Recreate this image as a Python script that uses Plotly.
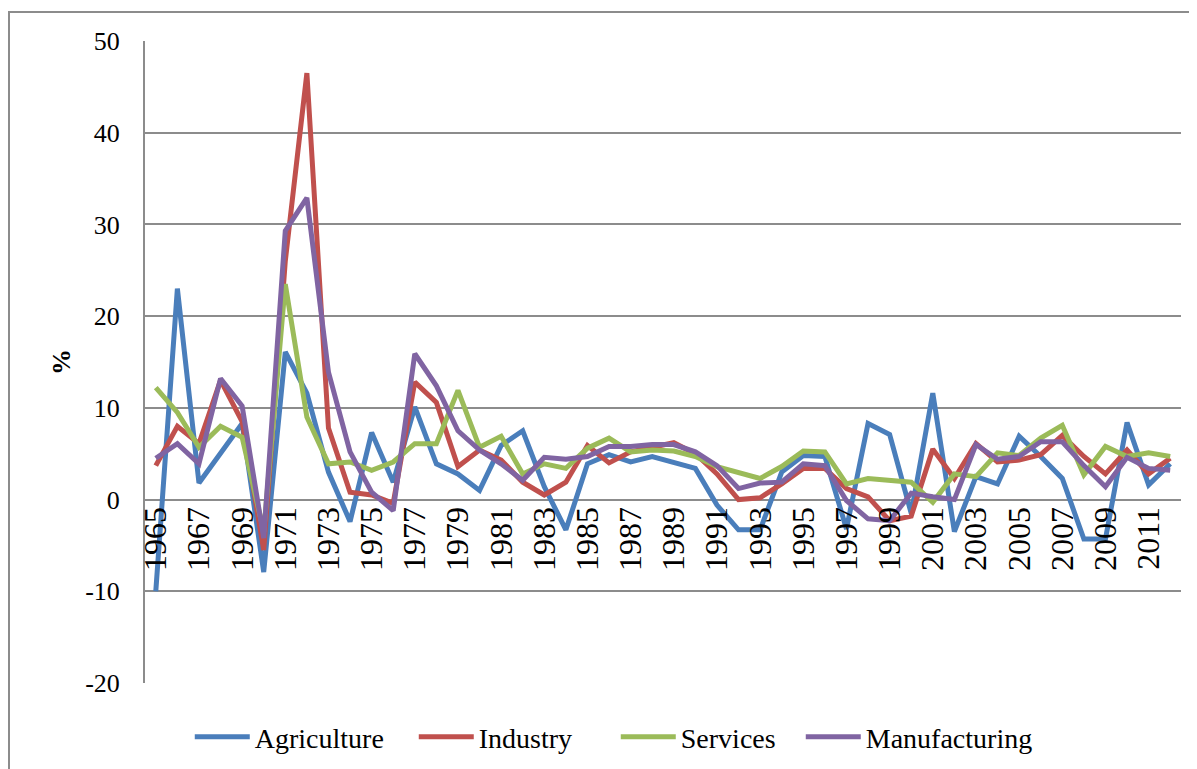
import plotly.graph_objects as go

years = list(range(1965, 2013))

agriculture = [-10.0, 23.0, 1.8, 5.0, 8.3, -7.9, 16.1, 11.6, 3.0, -2.4, 7.3, 1.9, 10.1, 3.9, 2.8, 1.0,
               5.9, 7.5, 1.4, -3.3, 3.9, 4.9, 4.1, 4.7, 4.1, 3.4, -0.6, -3.3, -3.3, 3.0, 4.8, 4.7,
               -3.2, 8.3, 7.1, -1.5, 11.6, -3.5, 2.5, 1.7, 6.9, 4.7, 2.3, -4.3, -4.3, 8.4, 1.6, 3.9]
industry = [3.7, 8.0, 6.1, 13.0, 8.5, -5.5, 26.0, 46.5, 7.8, 0.8, 0.5, -0.4, 12.8, 10.6, 3.6, 5.4,
            4.3, 1.9, 0.5, 1.9, 5.9, 4.0, 5.2, 5.7, 6.2, 5.0, 2.8, 0.0, 0.2, 1.7, 3.4, 3.4,
            1.2, 0.3, -2.3, -1.8, 5.5, 2.3, 6.1, 4.1, 4.3, 4.9, 7.0, 4.7, 2.8, 5.4, 2.8, 4.5]
services = [12.2, 9.5, 5.7, 8.0, 6.8, -3.5, 23.5, 9.0, 3.9, 4.1, 3.2, 4.1, 6.1, 6.1, 11.9, 5.7,
            6.9, 2.8, 3.9, 3.4, 5.6, 6.7, 5.2, 5.4, 5.3, 4.7, 3.6, 2.9, 2.3, 3.6, 5.3, 5.2,
            1.7, 2.3, 2.1, 1.9, -0.3, 2.8, 2.5, 5.1, 4.8, 6.7, 8.1, 2.7, 5.8, 4.7, 5.1, 4.7]
manufacturing = [4.5, 6.1, 3.9, 13.2, 10.2, -4.2, 29.3, 32.9, 13.9, 5.2, 0.8, -1.2, 15.9, 12.4, 7.5, 5.4,
                 3.9, 2.1, 4.6, 4.4, 4.7, 5.8, 5.8, 6.0, 6.0, 5.2, 3.7, 1.2, 1.8, 1.9, 3.9, 3.7,
                 -0.1, -2.1, -2.3, 0.7, 0.3, 0.0, 6.0, 4.4, 4.7, 6.3, 6.3, 3.7, 1.4, 4.6, 3.4, 3.2]

series = [
    ("Agriculture", agriculture, "#4A7EBB", 154),
    ("Industry", industry, "#C0504D", 132),
    ("Services", services, "#9BBB59", 115),
    ("Manufacturing", manufacturing, "#8064A2", 166),
]

tick_years = [y for y in years if (y - 1965) % 2 == 0]
y_ticks = [-20, -10, 0, 10, 20, 30, 40, 50]
y_ticktext = ["-20", "-10", "0", "10", "20", "30", "40", "50"]

fig = go.Figure()
for name, vals, color, lw in series:
    fig.add_trace(go.Scatter(x=years, y=vals, name=name, mode="lines",
                             line=dict(color=color, width=5), legendwidth=lw))

grid = "#8C8C8C"
fig.update_layout(
    width=1189, height=761,
    paper_bgcolor="white", plot_bgcolor="white",
    margin=dict(l=137, r=16, t=33, b=86, autoexpand=False),
    showlegend=True,
    legend=dict(orientation="h", x=0.452, xanchor="center", y=-0.084, yanchor="middle",
                font=dict(family="Liberation Serif, serif", size=28, color="black"),
                itemwidth=55, traceorder="normal"),
    xaxis=dict(range=[1964.5, 2012.5], tickvals=tick_years, ticktext=[str(y) for y in tick_years],
               tickangle=-90, anchor="free", position=20/70, showgrid=False, zeroline=False,
               showline=False, ticks="", automargin=False,
               tickfont=dict(family="Liberation Serif, serif", size=32, color="black")),
    yaxis=dict(range=[-20, 50], tickvals=y_ticks, ticktext=y_ticktext, showgrid=True,
               gridcolor=grid, gridwidth=2, automargin=False,
               zeroline=False, showline=True, linecolor=grid, linewidth=2, ticks="",
               ticklabelstandoff=18,
               tickfont=dict(family="Liberation Serif, serif", size=26, color="black"),
               title=dict(text="<b>%</b>", standoff=7,
                          font=dict(family="Liberation Serif, serif", size=26, color="black"))),
    shapes=[dict(type="rect", xref="paper", yref="paper",
                 x0=(1 - 137) / 1036, x1=1.2, y0=-0.3, y1=(675 - 4) / 642,
                 line=dict(color="#8C8C8C", width=2), layer="below")],
)

fig.write_html("out.html")
